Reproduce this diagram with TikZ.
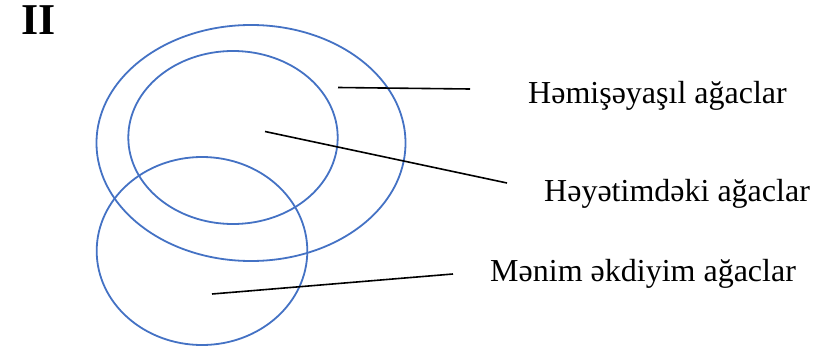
\documentclass[tikz,border=0pt]{standalone}
\usepackage{fontspec}
\setmainfont{Liberation Serif}
\definecolor{venn}{HTML}{4472C4}
\begin{document}
\begin{tikzpicture}[x=1pt,y=-1pt,
  ring/.style={draw=venn,line width=1.8pt},
  leader/.style={draw=black,line width=1.6pt},
  lbl/.style={anchor=base west,inner sep=0pt,font=\fontsize{32}{38}\selectfont}]
\useasboundingbox (0,0) rectangle (834,350);
\node[anchor=base west,inner sep=0pt,font=\fontsize{44}{50}\selectfont\bfseries] (num) at (21,35) {II};
\draw[ring] (251,143) ellipse [x radius=154.5,y radius=118];
\draw[ring] (233,137.5) ellipse [x radius=104.7,y radius=86.5];
\draw[ring] (202,251) ellipse [x radius=105.3,y radius=94];
\node[lbl] (t1) at (528,103) {Həmişəyaşıl ağaclar};
\node[lbl] (t2) at (544,201.5) {Həyətimdəki ağaclar};
\node[lbl] (t3) at (490,281.5) {Mənim əkdiyim ağaclar};
\coordinate (a1) at (338,87.5);
\coordinate (b1) at (470,89);
\coordinate (a2) at (265,131.5);
\coordinate (b2) at (507,183);
\coordinate (a3) at (212,294);
\coordinate (b3) at (453,274);
\draw[leader] (a1) -- (b1);
\draw[leader] (a2) -- (b2);
\draw[leader] (a3) -- (b3);
\end{tikzpicture}
\end{document}
